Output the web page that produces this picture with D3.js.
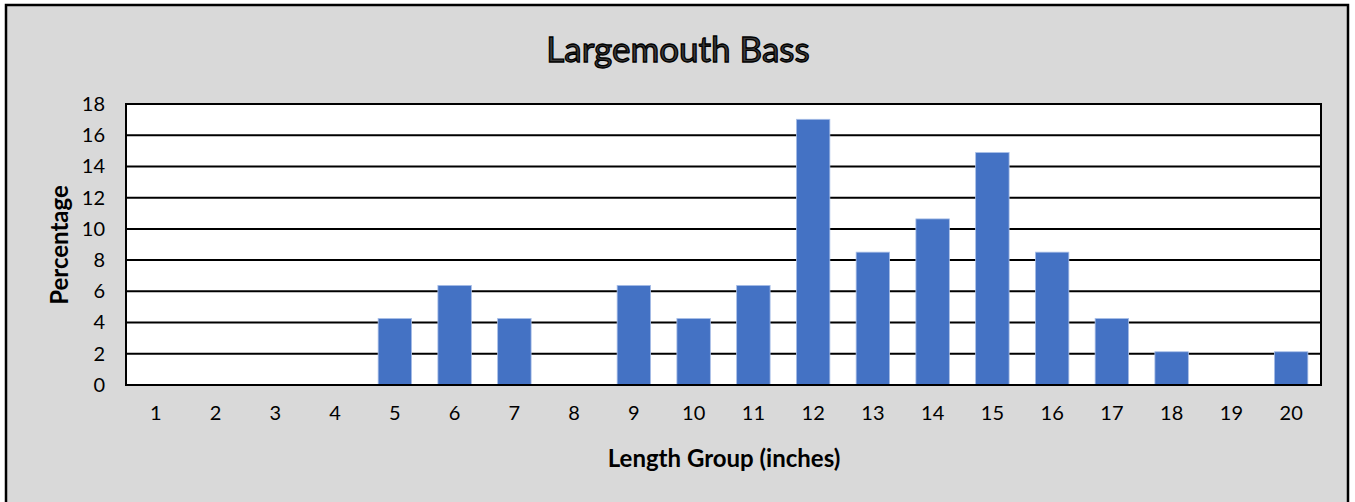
<!DOCTYPE html>
<html>
<head>
<meta charset="utf-8">
<script src="https://cdn.jsdelivr.net/npm/d3@7"></script>
<style>
  body { margin: 0; background: #fff; }
  svg { display: block; }
</style>
</head>
<body>
<div id="chart"></div>
<script>
// Length groups (inches) and percentage of fish in each
const lengthGroups = ['1', '2', '3', '4', '5', '6', '7', '8', '9', '10',
                      '11', '12', '13', '14', '15', '16', '17', '18', '19', '20'];
const percentages = [0, 0, 0, 0, 4.26, 6.38, 4.26, 0, 6.38, 4.26,
                     6.38, 17.02, 8.51, 10.64, 14.89, 8.51, 4.26, 2.13, 0, 2.13];
const yTicks = [0, 2, 4, 6, 8, 10, 12, 14, 16, 18];

const W = 1355, H = 502;
const plot = { left: 126, right: 1321, top: 104, bottom: 385 };
const font = 'Lato, "Open Sans", sans-serif';

const svg = d3.select('#chart').append('svg')
    .attr('width', W)
    .attr('height', H);

// Chart background with border (no bottom edge visible)
svg.append('rect')
    .attr('x', 6).attr('y', 5)
    .attr('width', 1342).attr('height', H)
    .attr('fill', '#d9d9d9')
    .attr('stroke', '#000')
    .attr('stroke-width', 2.5);

const x = d3.scaleBand()
    .domain(lengthGroups)
    .range([plot.left, plot.right])
    .paddingInner(0.44)
    .paddingOuter(0.22);

const y = d3.scaleLinear()
    .domain([0, 18])
    .range([plot.bottom, plot.top]);

// Plot area
svg.append('rect')
    .attr('x', plot.left).attr('y', plot.top)
    .attr('width', plot.right - plot.left)
    .attr('height', plot.bottom - plot.top)
    .attr('fill', '#fff');

// Gridlines
svg.append('g')
    .selectAll('line')
    .data(yTicks)
    .enter()
    .append('line')
    .attr('x1', plot.left).attr('x2', plot.right)
    .attr('y1', (d) => y(d)).attr('y2', (d) => y(d))
    .attr('stroke', '#000')
    .attr('stroke-width', 2);

// Bars
svg.append('g')
    .selectAll('rect')
    .data(percentages)
    .enter()
    .append('rect')
    .attr('x', (d, i) => x(lengthGroups[i]))
    .attr('y', (d) => y(d))
    .attr('width', x.bandwidth())
    .attr('height', (d) => y(0) - y(d))
    .attr('fill', '#4472c4')
    .attr('stroke', '#a9bfe8')
    .attr('stroke-width', (d) => d > 0 ? 0.8 : 0);

// Plot border
svg.append('rect')
    .attr('x', plot.left).attr('y', plot.top)
    .attr('width', plot.right - plot.left)
    .attr('height', plot.bottom - plot.top)
    .attr('fill', 'none')
    .attr('stroke', '#000')
    .attr('stroke-width', 2);

// Y axis labels
const yAxis = svg.append('g')
    .attr('transform', `translate(${plot.left - 21},0)`)
    .call(d3.axisLeft(y).tickValues(yTicks).tickSize(0).tickPadding(0));
yAxis.select('.domain').remove();
yAxis.selectAll('text')
    .attr('font-family', font)
    .attr('font-size', 20)
    .attr('fill', '#000');

// X axis labels
const xAxis = svg.append('g')
    .attr('transform', `translate(0,${plot.bottom + 21})`)
    .call(d3.axisBottom(x).tickSize(0).tickPadding(0));
xAxis.select('.domain').remove();
xAxis.selectAll('text')
    .attr('font-family', font)
    .attr('font-size', 20)
    .attr('fill', '#000');

// Title
svg.append('text')
    .attr('x', 678)
    .attr('y', 62)
    .attr('text-anchor', 'middle')
    .attr('font-family', font)
    .attr('font-size', 35)
    .attr('fill', '#3a3a3a')
    .attr('stroke', '#000')
    .attr('stroke-width', 1.3)
    .text('Largemouth Bass');

// Axis titles
svg.append('text')
    .attr('x', 724)
    .attr('y', 467)
    .attr('text-anchor', 'middle')
    .attr('font-family', font)
    .attr('font-size', 24)
    .attr('font-weight', 'bold')
    .attr('fill', '#000')
    .text('Length Group (inches)');

svg.append('text')
    .attr('transform', `translate(68,245) rotate(-90)`)
    .attr('text-anchor', 'middle')
    .attr('font-family', font)
    .attr('font-size', 24)
    .attr('font-weight', 'bold')
    .attr('fill', '#000')
    .text('Percentage');
</script>
</body>
</html>
